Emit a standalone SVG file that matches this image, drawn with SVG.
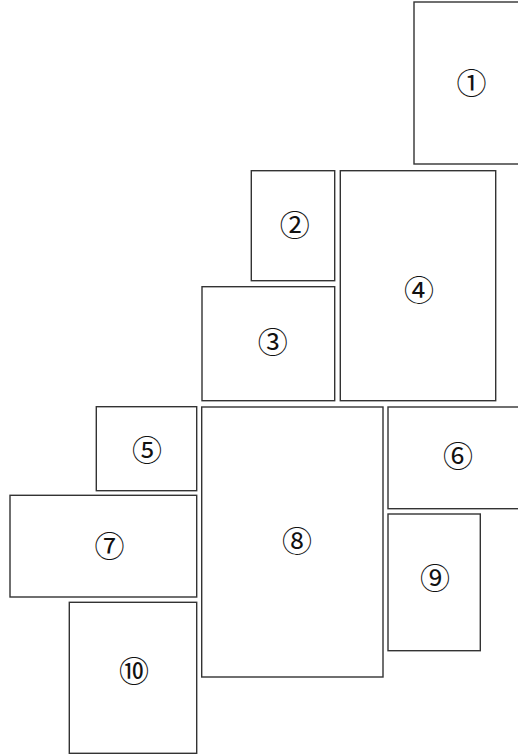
<svg xmlns="http://www.w3.org/2000/svg" width="518" height="755" viewBox="0 0 518 755">
<style>
rect{fill:#fff;stroke:#333;stroke-width:1.4}
text{font-family:"Noto Sans CJK JP","Noto Sans CJK SC",sans-serif;font-size:30px;fill:#111;text-anchor:middle;dominant-baseline:central}
</style>
<rect x="0" y="0" width="518" height="755" style="stroke:none"/>
<g id="n1"><rect x="414" y="2" width="116" height="162"/><text x="471.5" y="80.5">①</text></g>
<g id="n2"><rect x="251.3" y="170.7" width="83.4" height="110"/><text x="294.7" y="222.8">②</text></g>
<g id="n3"><rect x="202" y="286.7" width="132.7" height="114"/><text x="272.8" y="339.5">③</text></g>
<g id="n4"><rect x="340.3" y="170.7" width="155.4" height="230"/><text x="419" y="288">④</text></g>
<g id="n5"><rect x="96.3" y="406.7" width="100.4" height="84"/><text x="147" y="448">⑤</text></g>
<g id="n6"><rect x="388" y="407" width="140" height="101.7"/><text x="458" y="454">⑥</text></g>
<g id="n7"><rect x="10" y="495.3" width="186.7" height="101.7"/><text x="109.5" y="543.5">⑦</text></g>
<g id="n8"><rect x="201.7" y="407" width="181.3" height="270"/><text x="297" y="539">⑧</text></g>
<g id="n9"><rect x="388" y="514" width="92.3" height="136.7"/><text x="435" y="575.7">⑨</text></g>
<g id="n10"><rect x="69.3" y="602.3" width="127.4" height="151"/><text x="134" y="669.3">⑩</text></g>
<g id="connectors"></g>
</svg>
